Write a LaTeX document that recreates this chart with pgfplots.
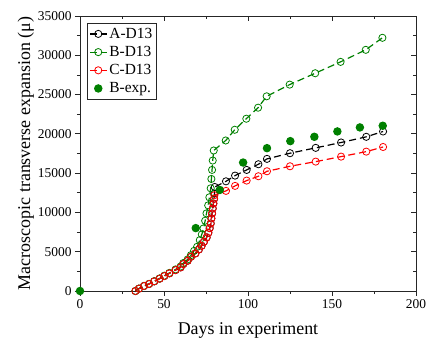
\documentclass[border=0pt]{standalone}
\usepackage{fontspec}
\setmainfont{Liberation Serif}
\usepackage{pgfplots}
\pgfplotsset{compat=1.18}
\definecolor{cgreen}{RGB}{0,128,0}
\definecolor{cred}{RGB}{255,0,0}
\begin{document}
\begin{tikzpicture}
\pgfplotsset{
  common/.style={
    scale only axis, width=336bp, height=275bp,
    xmin=0, xmax=200, ymin=0, ymax=35000,
    xtick={0,50,100,150,200}, ytick={0,5000,10000,15000,20000,25000,30000,35000},
    minor x tick num=1, minor y tick num=1,
    scaled y ticks=false, scaled x ticks=false,
    axis line style={line width=0.9bp, black!85},
    major tick length=5bp, minor tick length=3bp,
    every tick/.style={line width=0.8bp, black!85},
  }
}
\begin{axis}[common,
  tick align=outside,
  xtick pos=bottom, ytick pos=left,
  /pgf/number format/assume math mode=true,
  /pgf/number format/1000 sep={},
  tick label style={font=\fontsize{13.5}{14}\selectfont},
  xlabel={Days in experiment},
  ylabel={Macroscopic transverse expansion (μ)},
  label style={font=\fontsize{18}{20}\selectfont},
  xlabel style={yshift=-7bp},
  ylabel style={yshift=-3bp},
  legend style={at={(0.02,0.976)}, anchor=north west,
    draw=black!85, line width=0.9bp, font=\fontsize{15.5}{16}\selectfont,
    row sep=2.5bp, inner xsep=2bp, inner ysep=3bp},
  legend cell align=left,
  every axis plot/.append style={line width=1.2bp, dash pattern=on 7bp off 4bp},
]
\coordinate (bl) at (rel axis cs:0,0);
\coordinate (tr) at (rel axis cs:1,1);
% A-D13
\addplot[black, mark=o, mark size=3.6bp, mark options={solid, fill=white, line width=0.8bp}] coordinates {
(33,0)(35.1,296)(38.1,635)(41.1,889)(44.2,1227)(47.4,1566)(50.2,1905)(53.2,2244)(56.9,2667)(59.9,3006)(61.5,3429)(64.1,3852)(66.1,4360)(68.7,4783)(70.8,5291)(72.4,5757)(73.8,6265)(75.4,6816)(76.4,7408)(77.2,8001)(77.8,8594)(78.2,9229)(78.6,9864)(79.0,10499)(79.4,11134)(79.8,11726)(80.0,12400)(80.2,13240)
(86.9,13960)(92.3,14686)(99.2,15410)(106.2,16133)(111.3,16815)(125,17538)(140.3,18219)(155.4,18900)(170.4,19624)(180.4,20304)};
\addlegendentry{A-D13}
% B-D13
\addplot[cgreen, mark=o, mark size=3.6bp, mark options={solid, fill=white, line width=0.8bp}] coordinates {
(33,0)(35.1,310)(38.1,650)(41.1,910)(44.2,1250)(47.4,1600)(50.2,1950)(53.2,2300)(56.9,2750)(59.9,3120)(61.5,3560)(64.1,4020)(66.0,4559)(67.9,5108)(69.7,5623)(71.3,6474)(72.5,7199)(73.5,7965)(74.5,8943)(75.3,9880)(76.3,10901)(77.0,11923)(77.8,13072)(78.2,14264)(78.6,15413)(79.0,16605)(79.6,17882)
(86.75,19158)(92.1,20521)(99.0,21926)(106.0,23330)(111.1,24778)(124.8,26268)(140.0,27715)(155.1,29162)(170.1,30695)(180.0,32227)};
\addlegendentry{B-D13}
% C-D13
\addplot[cred, mark=o, mark size=3.6bp, mark options={solid, fill=white, line width=0.8bp}] coordinates {
(33,0)(35.1,296)(38.1,635)(41.1,889)(44.2,1227)(47.4,1566)(50.2,1905)(53.2,2244)(56.9,2667)(59.9,3006)(61.5,3429)(64.1,3852)(66.1,4360)(68.7,4783)(70.8,5291)(72.4,5757)(73.8,6265)(75.4,6816)(76.4,7408)(77.2,8001)(77.8,8594)(78.2,9229)(78.6,9864)(79.0,10499)(79.4,11134)(79.8,11726)(80.0,12192)
(86.9,12742)(92.3,13377)(99.2,14055)(106.2,14605)(111.3,15240)(125,15875)(140.3,16468)(155.4,17103)(170.4,17738)(180.4,18330)};
\addlegendentry{C-D13}
% B-exp.
\addplot[cgreen, only marks, mark=*, mark size=3.6bp, mark options={solid}] coordinates {
(0,0)(68.9,8007)(83.2,12859)(97.1,16350)(111.3,18181)(125.2,19075)(139.5,19627)(153.2,20308)(166.6,20819)(180.2,21032)};
\addlegendentry{B-exp.}
\end{axis}
\begin{axis}[common,
  tick align=inside,
  xtick pos=top, ytick pos=right,
  xticklabels={}, yticklabels={},
  axis line style={draw=none},
]
\end{axis}
\pgfresetboundingbox
\path ([shift={(-80bp,-59bp)}]bl) rectangle ([shift={(11bp,16bp)}]tr);
\end{tikzpicture}
\end{document}
